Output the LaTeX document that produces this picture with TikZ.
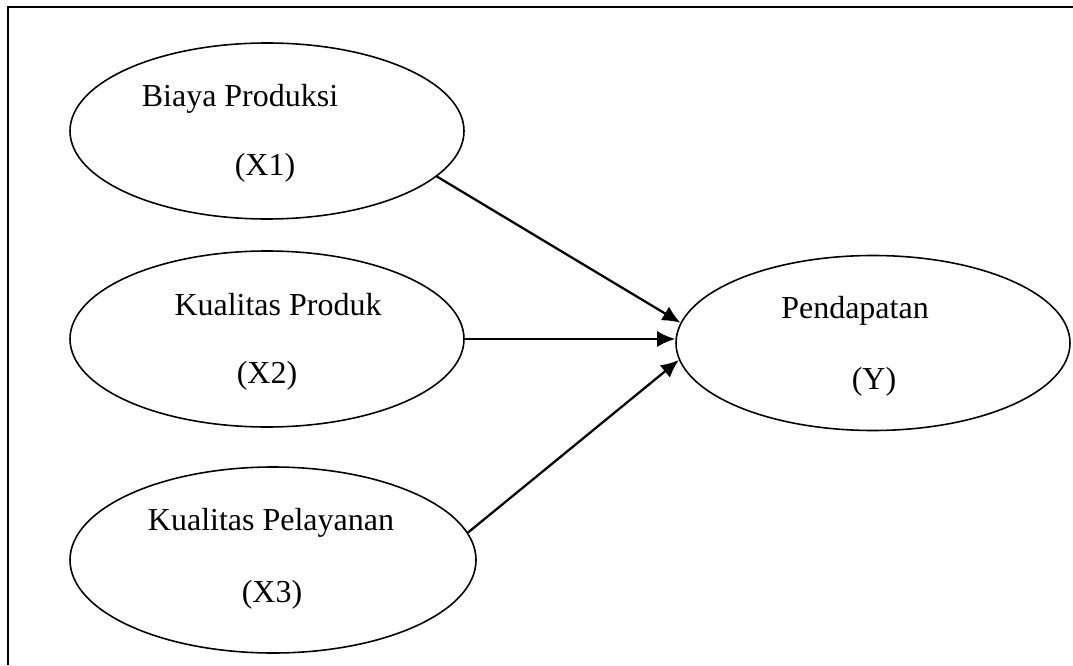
\documentclass[tikz,border=0pt]{standalone}
\usepackage{fontspec}
\setmainfont{Liberation Serif}
\usetikzlibrary{shapes.geometric}
\usetikzlibrary{arrows.meta}

\begin{document}
\begin{tikzpicture}[
  var/.style={draw, ellipse, line width = 0.9pt, inner sep=0pt},
  lbl/.style={anchor=base, inner sep=0pt, font=\fontsize{18.2}{22}\selectfont},
  arr/.style={-{Latex[length=0.36cm,width=0.32cm]}, line width = 1.3pt}
]
\useasboundingbox (0,0) rectangle (21.46,13.3);
% frame
\draw[line width = 1.3pt] (0.16,0) -- (0.16,13.16) -- (21.46,13.16);
% variables
\node[var, minimum width=7.88cm, minimum height=3.52cm] (x1) at (5.34,10.68) {};
\node[var, minimum width=7.88cm, minimum height=3.52cm] (x2) at (5.34,6.52) {};
\node[var, minimum width=8.12cm, minimum height=3.72cm] (x3) at (5.46,2.10) {};
\node[var, minimum width=7.88cm, minimum height=3.50cm] (y) at (17.46,6.44) {};
% labels
\node[lbl] (x1a) at (4.80,11.16) {Biaya Produksi};
\node[lbl] (x1b) at (5.30,9.78) {(X1)};
\node[lbl] (x2a) at (5.56,7.00) {Kualitas Produk};
\node[lbl] (x2b) at (5.34,5.64) {(X2)};
\node[lbl] (x3a) at (5.42,2.70) {Kualitas Pelayanan};
\node[lbl] (x3b) at (5.44,1.26) {(X3)};
\node[lbl] (ya) at (17.10,6.94) {Pendapatan};
\node[lbl] (yb) at (17.48,5.52) {(Y)};
% paths
\draw[arr] (x1.-15) -- (y.174);
\draw[arr] (x2.east) -- (x2.east -| y.west);
\draw[arr] (x3.8) -- (y.185);
\end{tikzpicture}
\end{document}
